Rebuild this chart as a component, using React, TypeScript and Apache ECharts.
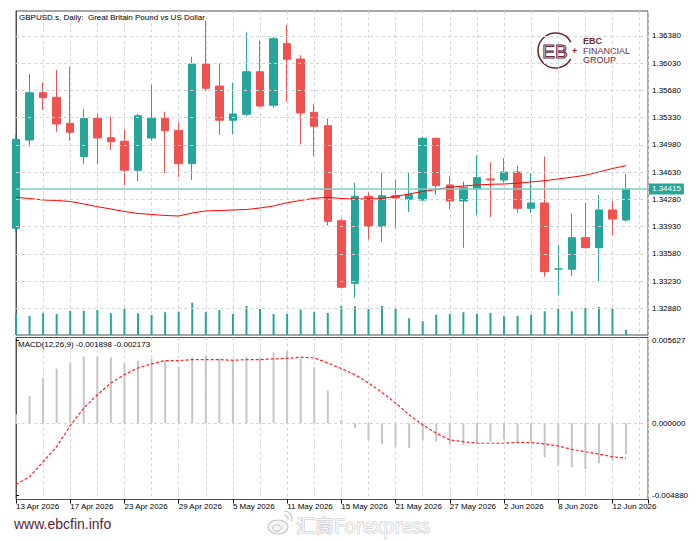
import React, { useEffect, useRef } from "react";
import * as echarts from "echarts";

const dates = [
  "13 Apr 2026", "14 Apr 2026", "15 Apr 2026", "16 Apr 2026", "17 Apr 2026",
  "20 Apr 2026", "21 Apr 2026", "22 Apr 2026", "23 Apr 2026", "24 Apr 2026",
  "27 Apr 2026", "28 Apr 2026", "29 Apr 2026", "30 Apr 2026", "1 May 2026",
  "4 May 2026", "5 May 2026", "6 May 2026", "7 May 2026", "8 May 2026",
  "11 May 2026", "12 May 2026", "13 May 2026", "14 May 2026", "15 May 2026",
  "18 May 2026", "19 May 2026", "20 May 2026", "21 May 2026", "22 May 2026",
  "25 May 2026", "26 May 2026", "27 May 2026", "28 May 2026", "29 May 2026",
  "1 Jun 2026", "2 Jun 2026", "3 Jun 2026", "4 Jun 2026", "5 Jun 2026",
  "8 Jun 2026", "9 Jun 2026", "10 Jun 2026", "11 Jun 2026", "12 Jun 2026",
  "15 Jun 2026",
];

const opens = [
  1.33908, 1.35043, 1.35651, 1.35592, 1.35258, 1.34829, 1.35322, 1.35073, 1.35027, 1.34654,
  1.35069, 1.35322, 1.35168, 1.34739, 1.3602, 1.35737, 1.35297, 1.35374, 1.35921, 1.35489,
  1.36281, 1.36084, 1.35399, 1.35227, 1.34006, 1.33201, 1.3432, 1.33934, 1.34327, 1.34281,
  1.34272, 1.35065, 1.34465, 1.34259, 1.34417, 1.34542, 1.34529, 1.34632, 1.34165, 1.34234,
  1.33384, 1.33381, 1.33788, 1.33659, 1.34144, 1.34015,
];
const closes = [
  1.35052, 1.35651, 1.35587, 1.35249, 1.35142, 1.35322, 1.35069, 1.35021, 1.34654, 1.35356,
  1.35322, 1.35163, 1.34739, 1.3602, 1.35708, 1.35297, 1.35378, 1.35921, 1.3548, 1.36345,
  1.36081, 1.3539, 1.35219, 1.33998, 1.3315, 1.3432, 1.33934, 1.34327, 1.34298, 1.3434,
  1.35065, 1.34456, 1.34259, 1.34435, 1.34559, 1.34529, 1.34632, 1.34165, 1.34234, 1.33351,
  1.33386, 1.33788, 1.33659, 1.34144, 1.34028, 1.34415,
];
const lows = [
  1.33861, 1.34957, 1.35429, 1.3515, 1.35034, 1.34735, 1.34735, 1.34915, 1.34465, 1.34516,
  1.35034, 1.34615, 1.34568, 1.34529, 1.35677, 1.35108, 1.3512, 1.35352, 1.35464, 1.35458,
  1.35536, 1.34988, 1.34838, 1.33942, 1.33141, 1.33016, 1.33767, 1.33736, 1.33908, 1.34118,
  1.34259, 1.34336, 1.34153, 1.33659, 1.34076, 1.34054, 1.34494, 1.34109, 1.34109, 1.33286,
  1.33051, 1.33295, 1.3365, 1.33231, 1.33822, 1.33993,
];
const highs = [
  1.35108, 1.35892, 1.35785, 1.35943, 1.35985, 1.35442, 1.35386, 1.35343, 1.35181, 1.35378,
  1.3575, 1.35407, 1.35271, 1.36114, 1.36577, 1.36029, 1.3578, 1.36428, 1.3632, 1.36367,
  1.36521, 1.36132, 1.35506, 1.35322, 1.34037, 1.34494, 1.34371, 1.34623, 1.34538, 1.34623,
  1.35086, 1.35072, 1.34584, 1.34507, 1.34847, 1.34757, 1.34812, 1.34713, 1.34615, 1.34829,
  1.33694, 1.34101, 1.34237, 1.34336, 1.34259, 1.34606,
];
const maValues = [
  1.34307, 1.34291, 1.34272, 1.34266, 1.34253, 1.34221, 1.34186, 1.34156, 1.34124, 1.34099,
  1.34086, 1.34073, 1.34066, 1.34105, 1.34131, 1.34137, 1.34144, 1.3415, 1.34169, 1.34195,
  1.34237, 1.34266, 1.34294, 1.34307, 1.34291, 1.34285, 1.34285, 1.34291, 1.34317, 1.34349,
  1.34381, 1.34407, 1.34435, 1.34452, 1.34465, 1.34474, 1.34478, 1.34487, 1.34504, 1.3452,
  1.34542, 1.34565, 1.3459, 1.34632, 1.34677, 1.34713,
];
const volumes = [
  88, 77, 87, 84, 97, 97, 100, 87, 104, 87,
  80, 91, 93, 129, 91, 100, 84, 116, 104, 84,
  84, 101, 91, 88, 116, 116, 104, 116, 104, 67,
  55, 81, 84, 91, 84, 88, 75, 77, 81, 95,
  104, 95, 108, 112, 104, 20,
];
const macdMain = [
  0.0006, 0.001859, 0.003064, 0.003698, 0.004127, 0.004515, 0.004515, 0.004447, 0.004059, 0.004242,
  0.004358, 0.004242, 0.003834, 0.004467, 0.004583, 0.004399, 0.004311, 0.004494, 0.004426, 0.004808,
  0.004876, 0.004379, 0.003786, 0.00222, 0.000225, -0.00034, -0.001137, -0.00141, -0.001594, -0.001682,
  -0.001158, -0.001253, -0.001444, -0.001478, -0.001362, -0.001253, -0.00109, -0.001253, -0.001253, -0.002315,
  -0.002887, -0.002996, -0.003112, -0.00272, -0.00255, -0.00211,
];
const macdSignal = [
  -0.004154, -0.003636, -0.002615, -0.001593, -0.000163, 0.001021, 0.001927, 0.002724, 0.003289, 0.003745,
  0.004018, 0.004242, 0.004242, 0.004311, 0.004311, 0.004311, 0.004263, 0.004311, 0.004311, 0.004358,
  0.004399, 0.004467, 0.004426, 0.004086, 0.003698, 0.003289, 0.002724, 0.002084, 0.001362, 0.000565,
  -0.000116, -0.000681, -0.001137, -0.001253, -0.001362, -0.001362, -0.001362, -0.001294, -0.001321, -0.00141,
  -0.001546, -0.001771, -0.001934, -0.002091, -0.002274, -0.002383,
];
const priceTicks = [
  1.3288, 1.3323, 1.3358, 1.3393, 1.3428, 1.3463, 1.3498, 1.3533, 1.3568, 1.3603, 1.3638,
];
const macdTicks = [-0.00488, 0, 0.005627];
const lastPrice = 1.34415;
const titleText = "GBPUSD.s, Daily:  Great Britain Pound vs US Dollar";
const macdText = "MACD(12,26,9) -0.001898 -0.002173";

const FONT = "Liberation Sans, Arial, sans-serif";
const X_MAX = 46.62;
const PRICE_MIN = 1.325368;
const PRICE_MAX = 1.367013;
const MACD_MIN = -0.005175;
const MACD_MAX = 0.005809;
const VOL_MAX = 1296;

const TEAL = "#26a69a";
const RED = "#ef5350";
const MAROON = "#6b2737";

export default function App() {
  const ref = useRef<HTMLDivElement>(null);

  useEffect(() => {
    const chart = echarts.init(ref.current as HTMLDivElement, null, { renderer: "svg" });
    const gridLine = { show: true, lineStyle: { color: "#d4d4d4", type: [3, 3], width: 1 } };

    const dateLabel = (v: number) => {
      const i = Math.round(v);
      if (Math.abs(v - i) > 1e-6 || i % 4 !== 0 || i >= dates.length) return "";
      return dates[i];
    };

    const option: any = {
      animation: false,
      backgroundColor: "#ffffff",
      grid: [
        { left: 16, right: 52, top: 11, height: 324, show: true, borderColor: "#505050", borderWidth: 1 },
        { left: 16, right: 52, top: 337.5, height: 162, show: true, borderColor: "#505050", borderWidth: 1 },
      ],
      xAxis: [
        {
          type: "value", gridIndex: 0, min: 0, max: X_MAX, interval: 2,
          axisLine: { show: false }, axisTick: { show: false }, axisLabel: { show: false },
          splitLine: gridLine,
        },
        {
          type: "value", gridIndex: 1, min: 0, max: X_MAX, interval: 2,
          axisLine: { show: false }, axisTick: { show: false }, axisLabel: { show: false },
          splitLine: gridLine,
        },
        {
          type: "value", gridIndex: 1, min: 0, max: X_MAX, interval: 4, position: "bottom",
          axisLine: { show: false },
          axisTick: { show: true, length: 4, lineStyle: { color: "#000" } },
          axisLabel: {
            formatter: dateLabel, align: "left", margin: 3, fontSize: 8,
            fontFamily: FONT, color: "#000",
          },
          splitLine: { show: false },
        },
      ],
      yAxis: [
        {
          type: "value", gridIndex: 0, position: "right", min: PRICE_MIN, max: PRICE_MAX,
          axisLine: { show: true, lineStyle: { color: "#505050" } },
          axisTick: { show: true, length: 3, customValues: priceTicks, lineStyle: { color: "#000" } },
          axisLabel: {
            customValues: priceTicks, formatter: (v: number) => v.toFixed(5),
            fontSize: 8, fontFamily: FONT, color: "#000", margin: 4,
          },
          splitLine: { show: false },
        },
        { type: "value", gridIndex: 0, min: 0, max: VOL_MAX, show: false, splitLine: { show: false } },
        {
          type: "value", gridIndex: 1, position: "right", min: MACD_MIN, max: MACD_MAX,
          axisLine: { show: true, lineStyle: { color: "#505050" } },
          axisTick: { show: true, length: 3, customValues: macdTicks, lineStyle: { color: "#000" } },
          axisLabel: {
            customValues: macdTicks, formatter: (v: number) => v.toFixed(6),
            fontSize: 8, fontFamily: FONT, color: "#000", margin: 4,
          },
          splitLine: { show: false },
        },
      ],
      series: [
        {
          type: "bar", name: "Volume", xAxisIndex: 0, yAxisIndex: 1, z: 1,
          barWidth: 2, itemStyle: { color: TEAL },
          data: volumes.map((v, i) => [i, v]),
        },
        {
          type: "line", name: "Grid", xAxisIndex: 0, yAxisIndex: 0, z: 1,
          showSymbol: false, symbol: "none", lineStyle: { opacity: 0 },
          data: maValues.map((v, i) => [i, v]),
          markLine: {
            silent: true, precision: 6, symbol: ["none", "none"], label: { show: false },
            lineStyle: { color: "#d4d4d4", type: [3, 3], width: 1 },
            data: priceTicks.map((p) => ({ yAxis: p })),
          },
        },
        {
          type: "candlestick", name: "GBPUSD", xAxisIndex: 0, yAxisIndex: 0, z: 3,
          barWidth: 8,
          itemStyle: { color: TEAL, color0: RED, borderColor: TEAL, borderColor0: RED, borderWidth: 1 },
          data: dates.map((_, i) => [i, opens[i], closes[i], lows[i], highs[i]]),
        },
        {
          type: "line", name: "MA", xAxisIndex: 0, yAxisIndex: 0, z: 4,
          showSymbol: false, symbol: "none",
          lineStyle: { color: "#ff0000", width: 1 },
          data: maValues.map((v, i) => [i, v]),
          markLine: {
            silent: true, precision: 6, symbol: ["none", "none"],
            lineStyle: { color: "#80cbc4", width: 1.5, type: "solid" },
            label: {
              show: true, position: "end", distance: 1,
              formatter: lastPrice.toFixed(5), backgroundColor: TEAL, color: "#fff",
              padding: [2, 3, 1, 3], fontSize: 8, fontFamily: FONT,
            },
            data: [{ yAxis: lastPrice }],
          },
        },
        {
          type: "bar", name: "MACD", xAxisIndex: 1, yAxisIndex: 2, z: 2,
          barWidth: 2, itemStyle: { color: "#c6c6c6" },
          data: macdMain.map((v, i) => [i, v]),
          markLine: {
            silent: true, precision: 8, symbol: ["none", "none"], label: { show: false },
            lineStyle: { color: "#d4d4d4", type: [3, 3], width: 1 },
            data: [{ yAxis: 0 }],
          },
        },
        {
          type: "line", name: "Signal", xAxisIndex: 1, yAxisIndex: 2, z: 3,
          showSymbol: false, symbol: "none",
          lineStyle: { color: "#ff2020", width: 1.2, type: [3, 2] },
          data: macdSignal.map((v, i) => [i, v]),
        },
      ],
      graphic: [
        {
          type: "text", x: 19, y: 17, z: 100,
          style: { text: titleText, fontSize: 8, fontFamily: FONT, fill: "#000", verticalAlign: "middle" },
        },
        {
          type: "text", x: 18, y: 344.5, z: 100,
          style: { text: macdText, fontSize: 8, fontFamily: FONT, fill: "#000", verticalAlign: "middle" },
        },
        {
          type: "text", x: 14, y: 524, z: 100,
          style: { text: "www.ebcfin.info", fontSize: 14, fontFamily: FONT, fill: "#5c2436", verticalAlign: "middle" },
        },
        {
          type: "group", z: 100,
          children: [
            { type: "ellipse", shape: { cx: 278, cy: 527, rx: 10, ry: 7 }, style: { fill: "#f6f6f6", stroke: "#c4c4c4", lineWidth: 1.2 } },
            { type: "ellipse", shape: { cx: 277, cy: 528, rx: 4.5, ry: 3.2 }, style: { fill: "none", stroke: "#c4c4c4", lineWidth: 1 } },
            { type: "arc", shape: { cx: 284, cy: 519, r: 4, startAngle: -Math.PI / 2, endAngle: 0.2 }, style: { stroke: "#c4c4c4", lineWidth: 1.2, fill: "none" } },
            { type: "arc", shape: { cx: 284, cy: 519, r: 8, startAngle: -Math.PI / 2, endAngle: 0.3 }, style: { stroke: "#c4c4c4", lineWidth: 1.2, fill: "none" } },
            {
              type: "text", x: 296, y: 524,
              style: {
                text: "汇商Forexpress", fontSize: 19, fontFamily: "Noto Sans CJK SC, sans-serif",
                fill: "#f7f7f7", stroke: "#c2c2c2", lineWidth: 1, verticalAlign: "middle",
              },
            },
          ],
        },
        {
          type: "group", z: 100,
          children: [
            { type: "arc", shape: { cx: 555.5, cy: 50.5, r: 17.5, startAngle: 0.5, endAngle: Math.PI * 2 - 0.5 }, style: { stroke: MAROON, lineWidth: 1.6, fill: "none" } },
            {
              type: "text", x: 555, y: 51,
              style: { text: "EB", fontSize: 19, fontFamily: FONT, fill: "none", stroke: MAROON, lineWidth: 1, align: "center", verticalAlign: "middle" },
            },
            { type: "text", x: 574.5, y: 50.5, style: { text: "+", fontSize: 9, fontFamily: FONT, fill: MAROON, align: "center", verticalAlign: "middle", fontWeight: "bold" } },
            { type: "text", x: 583, y: 41, style: { text: "EBC", fontSize: 9, fontFamily: FONT, fill: MAROON, fontWeight: "bold", verticalAlign: "middle" } },
            { type: "text", x: 583, y: 50.5, style: { text: "FINANCIAL", fontSize: 9, fontFamily: FONT, fill: MAROON, verticalAlign: "middle" } },
            { type: "text", x: 583, y: 60, style: { text: "GROUP", fontSize: 9, fontFamily: FONT, fill: MAROON, verticalAlign: "middle" } },
          ],
        },
      ],
    };

    chart.setOption(option);
    return () => chart.dispose();
  }, []);

  return (
    <div
      ref={ref}
      style={{ position: "fixed", left: 0, top: 0, width: 700, height: 541, background: "#fff" }}
    />
  );
}
